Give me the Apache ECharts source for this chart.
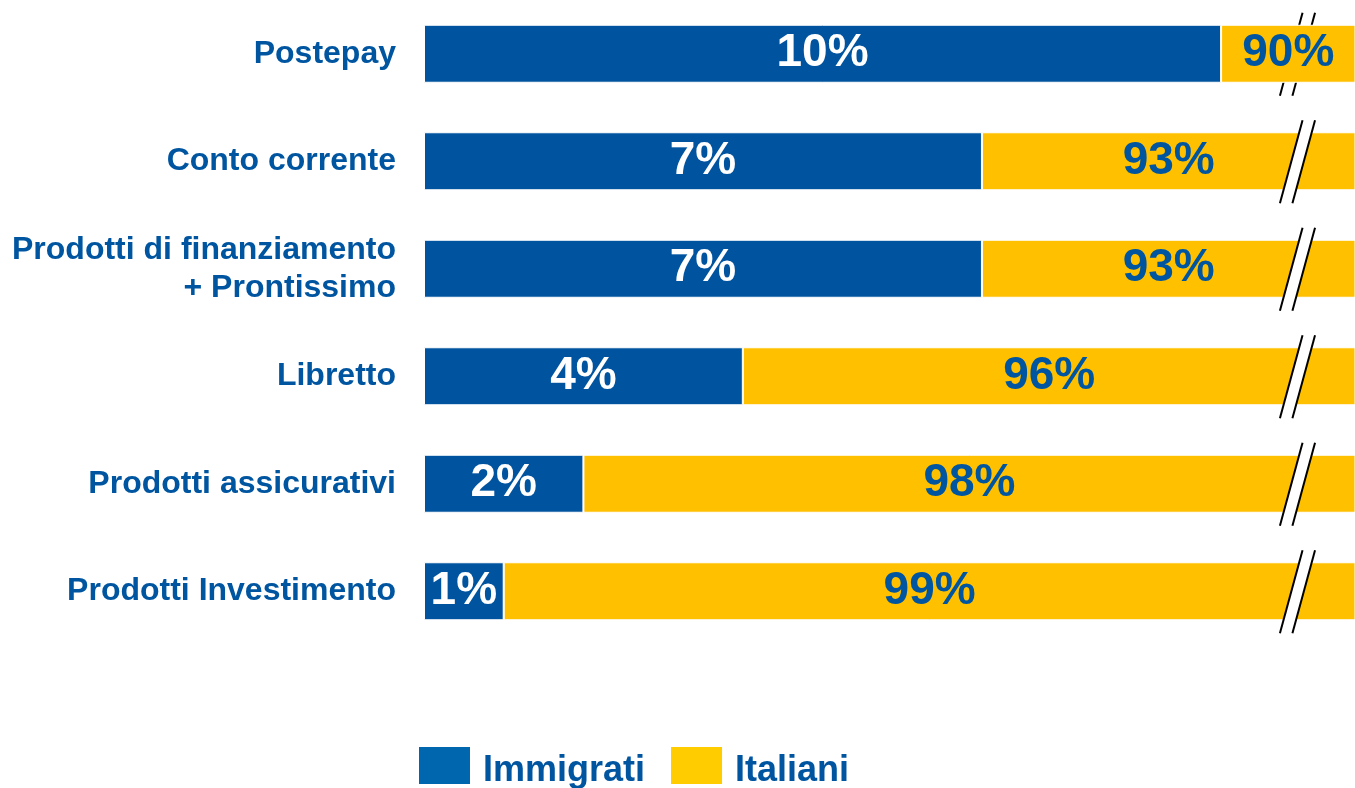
<!DOCTYPE html>
<html>
<head>
<meta charset="utf-8">
<script src="https://cdn.jsdelivr.net/npm/echarts@6/dist/echarts.min.js"></script>
<style>
  html, body { margin: 0; padding: 0; background: #fff; }
  #main { width: 1355px; height: 788px; }
</style>
</head>
<body>
<div id="main"></div>
<script>
// categorie (dall'alto in basso)
var categories = ['Postepay', 'Conto corrente', 'Prodotti di finanziamento\n+ Prontissimo', 'Libretto', 'Prodotti assicurativi', 'Prodotti Investimento'];
// quote percentuali
var immigrati = [10, 7, 7, 4, 2, 1];
var italiani = [90, 93, 93, 96, 98, 99];

var BLUE = '#00539f';
var YELLOW = '#ffc000';
var TEXT = '#0055a0';
var FONT = '"Liberation Sans", Arial, sans-serif';

var myChart = echarts.init(document.getElementById('main'));

var option = {
    animation: false,
    grid: { left: 424, right: 0, top: 0, bottom: 143 },
    legend: {
        left: 419,
        top: 747,
        padding: 0,
        icon: 'rect',
        itemWidth: 51,
        itemHeight: 37,
        itemGap: 26,
        itemStyle: { borderWidth: 0 },
        formatter: '{t|{name}}',
        textStyle: {
            fontFamily: FONT, fontSize: 36, fontWeight: 'bold', color: TEXT,
            rich: { t: { fontFamily: FONT, fontSize: 36, fontWeight: 'bold', color: TEXT, padding: [11, 0, 0, 8] } }
        },
        data: [
            { name: 'Immigrati', itemStyle: { color: '#0066ae' } },
            { name: 'Italiani', itemStyle: { color: '#ffcc00' } }
        ]
    },
    xAxis: {
        type: 'value',
        min: 0,
        max: 11.68,   // asse interrotto: il giallo viene tagliato al bordo
        show: false
    },
    yAxis: {
        type: 'category',
        inverse: true,
        data: categories,
        axisLine: { show: false },
        axisTick: { show: false },
        axisLabel: {
            margin: 28,
            fontFamily: FONT,
            fontSize: 32,
            fontWeight: 'bold',
            lineHeight: 38,
            color: TEXT,
            padding: [18, 0, 0, 0]
        }
    },
    series: [
        {
            name: 'Immigrati',
            type: 'bar',
            stack: 'tot',
            barWidth: 58,
            data: immigrati,
            itemStyle: { color: BLUE, borderColor: '#fff', borderWidth: 1 },
            label: {
                show: true,
                position: 'inside',
                formatter: '{c}%',
                fontFamily: FONT,
                fontSize: 46,
                fontWeight: 'bold',
                color: '#fff'
            }
        },
        {
            name: 'Italiani',
            type: 'bar',
            stack: 'tot',
            barWidth: 58,
            clip: true,
            data: italiani,
            itemStyle: { color: YELLOW, borderColor: '#fff', borderWidth: 1 },
            label: {
                show: true,
                position: 'inside',
                formatter: '{c}%',
                fontFamily: FONT,
                fontSize: 46,
                fontWeight: 'bold',
                color: TEXT
            }
        }
    ]
};
myChart.setOption(option);

// segni di interruzione dell'asse (doppia barra obliqua)
function drawBreaks() {
    var breakAt = 10.88;
    var els = [];
    for (var i = 0; i < categories.length; i++) {
        var p = myChart.convertToPixel({ gridIndex: 0 }, [breakAt, i]);
        var cx = p[0], cy = p[1];
        var y0 = cy - 41, y1 = cy + 42;
        var dx = 11.3, gap = 12.5;
        var z = i === 0 ? 1 : 10;
        els.push({
            type: 'polygon', z: z,
            shape: { points: [[cx + dx, y0], [cx + dx + gap, y0], [cx - dx + gap, y1], [cx - dx, y1]] },
            style: { fill: '#fff' }
        });
        els.push({
            type: 'line', z: z + 1,
            shape: { x1: cx + dx, y1: y0, x2: cx - dx, y2: y1 },
            style: { stroke: '#000', lineWidth: 2 }
        });
        els.push({
            type: 'line', z: z + 1,
            shape: { x1: cx + dx + gap, y1: y0, x2: cx - dx + gap, y2: y1 },
            style: { stroke: '#000', lineWidth: 2 }
        });
    }
    myChart.setOption({ graphic: { elements: els } });
}
drawBreaks();
</script>
</body>
</html>
